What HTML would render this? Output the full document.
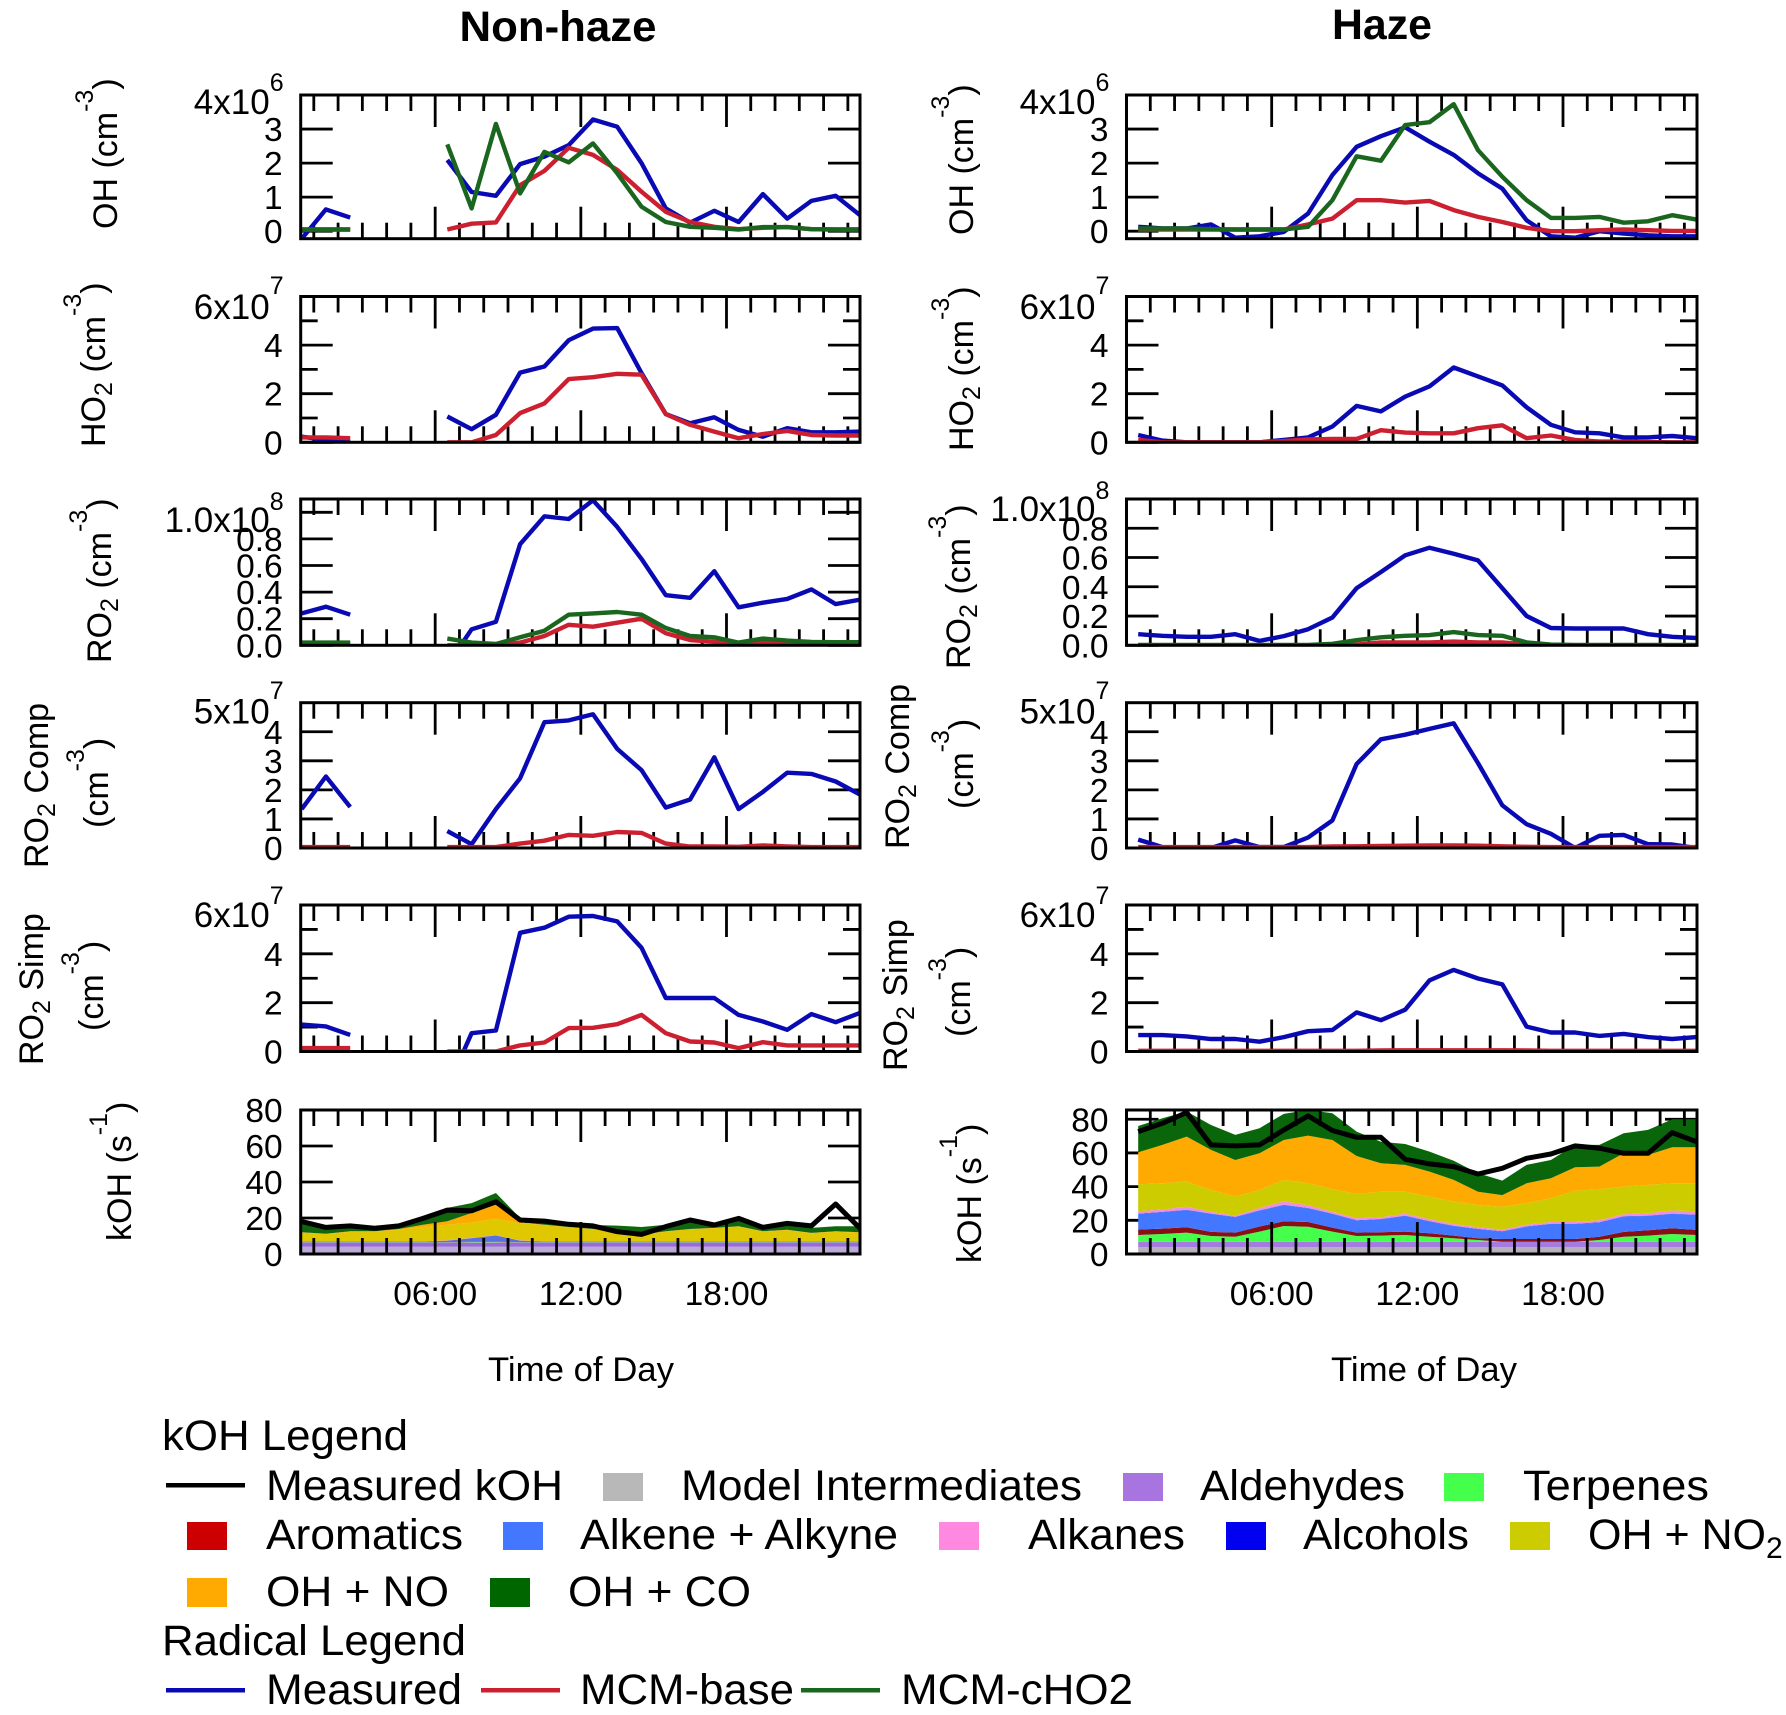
<!DOCTYPE html>
<html lang="en">
<head>
<meta charset="utf-8">
<title>Radical and kOH diurnal profiles: non-haze and haze</title>
<style>
html,body{margin:0;padding:0;background:#fff;}
#chart{display:block;width:1786px;height:1715px;}
text{font-family:"Liberation Sans",Arial,sans-serif;fill:#000;}
</style>
</head>
<body>
<svg id="chart" xmlns="http://www.w3.org/2000/svg" width="1786" height="1715" viewBox="0 0 1786 1715">
  <rect x="0" y="0" width="1786" height="1715" fill="#fff"/>
  <g id="plots"></g>

  <text x="558" y="41" font-size="43" font-weight="bold" text-anchor="middle" textLength="197" lengthAdjust="spacingAndGlyphs">Non-haze</text>
  <text x="1382" y="39" font-size="43" font-weight="bold" text-anchor="middle" textLength="100" lengthAdjust="spacingAndGlyphs">Haze</text>

  <g font-size="34">
    <text transform="translate(117,229) rotate(-90)">OH (cm<tspan font-size="25" dy="-24">-3</tspan><tspan dy="24">)</tspan></text>
    <text transform="translate(105,447) rotate(-90)">HO<tspan font-size="25" dy="7">2</tspan><tspan dy="-7"> (cm</tspan><tspan font-size="25" dy="-24">-3</tspan><tspan dy="24">)</tspan></text>
    <text transform="translate(111,663) rotate(-90)">RO<tspan font-size="25" dy="7">2</tspan><tspan dy="-7"> (cm</tspan><tspan font-size="25" dy="-24">-3</tspan><tspan dy="24">)</tspan></text>
    <text transform="translate(48,868) rotate(-90)">RO<tspan font-size="25" dy="7">2</tspan><tspan dy="-7"> Comp</tspan></text>
    <text transform="translate(108,828) rotate(-90)">(cm<tspan font-size="25" dy="-24">-3</tspan><tspan dy="24">)</tspan></text>
    <text transform="translate(43,1065) rotate(-90)">RO<tspan font-size="25" dy="7">2</tspan><tspan dy="-7"> Simp</tspan></text>
    <text transform="translate(103,1031) rotate(-90)">(cm<tspan font-size="25" dy="-24">-3</tspan><tspan dy="24">)</tspan></text>
    <text transform="translate(131,1241) rotate(-90)">kOH (s<tspan font-size="25" dy="-24">-1</tspan><tspan dy="24">)</tspan></text>

    <text transform="translate(973,235) rotate(-90)">OH (cm<tspan font-size="25" dy="-24">-3</tspan><tspan dy="24">)</tspan></text>
    <text transform="translate(973,451) rotate(-90)">HO<tspan font-size="25" dy="7">2</tspan><tspan dy="-7"> (cm</tspan><tspan font-size="25" dy="-24">-3</tspan><tspan dy="24">)</tspan></text>
    <text transform="translate(970,669) rotate(-90)">RO<tspan font-size="25" dy="7">2</tspan><tspan dy="-7"> (cm</tspan><tspan font-size="25" dy="-24">-3</tspan><tspan dy="24">)</tspan></text>
    <text transform="translate(909,849) rotate(-90)">RO<tspan font-size="25" dy="7">2</tspan><tspan dy="-7"> Comp</tspan></text>
    <text transform="translate(973,809) rotate(-90)">(cm<tspan font-size="25" dy="-24">-3</tspan><tspan dy="24">)</tspan></text>
    <text transform="translate(907,1071) rotate(-90)">RO<tspan font-size="25" dy="7">2</tspan><tspan dy="-7"> Simp</tspan></text>
    <text transform="translate(970,1037) rotate(-90)">(cm<tspan font-size="25" dy="-24">-3</tspan><tspan dy="24">)</tspan></text>
    <text transform="translate(981,1263) rotate(-90)">kOH (s<tspan font-size="25" dy="-24">-1</tspan><tspan dy="24">)</tspan></text>
  </g>

  <text x="581" y="1381" font-size="34" text-anchor="middle" textLength="186" lengthAdjust="spacingAndGlyphs">Time of Day</text>
  <text x="1424" y="1381" font-size="34" text-anchor="middle" textLength="186" lengthAdjust="spacingAndGlyphs">Time of Day</text>

  <g font-size="43">
    <text x="162" y="1450" textLength="246" lengthAdjust="spacingAndGlyphs">kOH Legend</text>

    <g>
      <rect x="166" y="1483" width="79" height="4.5" fill="#000"/>
      <text x="266" y="1500" textLength="297" lengthAdjust="spacingAndGlyphs">Measured kOH</text>
    </g>
    <g>
      <rect x="603" y="1473" width="40" height="28" fill="#b8b8b8"/>
      <text x="681" y="1500" textLength="401" lengthAdjust="spacingAndGlyphs">Model Intermediates</text>
    </g>
    <g>
      <rect x="1123" y="1473" width="40" height="28" fill="#a875e0"/>
      <text x="1200" y="1500" textLength="205" lengthAdjust="spacingAndGlyphs">Aldehydes</text>
    </g>
    <g>
      <rect x="1444" y="1473" width="40" height="28" fill="#44ff4c"/>
      <text x="1523" y="1500" textLength="186" lengthAdjust="spacingAndGlyphs">Terpenes</text>
    </g>

    <g>
      <rect x="187" y="1522" width="40" height="28" fill="#cc0000"/>
      <text x="266" y="1549" textLength="197" lengthAdjust="spacingAndGlyphs">Aromatics</text>
    </g>
    <g>
      <rect x="503" y="1522" width="40" height="28" fill="#4477ff"/>
      <text x="580" y="1549" textLength="318" lengthAdjust="spacingAndGlyphs">Alkene + Alkyne</text>
    </g>
    <g>
      <rect x="939" y="1522" width="40" height="28" fill="#ff88e0"/>
      <text x="1028" y="1549" textLength="157" lengthAdjust="spacingAndGlyphs">Alkanes</text>
    </g>
    <g>
      <rect x="1226" y="1522" width="40" height="28" fill="#0000f0"/>
      <text x="1303" y="1549" textLength="166" lengthAdjust="spacingAndGlyphs">Alcohols</text>
    </g>
    <g>
      <rect x="1510" y="1522" width="40" height="28" fill="#cccc00"/>
      <text x="1588" y="1549">OH + NO<tspan font-size="30" dy="9">2</tspan></text>
    </g>

    <g>
      <rect x="187" y="1578" width="40" height="29" fill="#ffaa00"/>
      <text x="266" y="1606" textLength="183" lengthAdjust="spacingAndGlyphs">OH + NO</text>
    </g>
    <g>
      <rect x="490" y="1578" width="40" height="29" fill="#006600"/>
      <text x="568" y="1606" textLength="183" lengthAdjust="spacingAndGlyphs">OH + CO</text>
    </g>

    <text x="162" y="1655" textLength="304" lengthAdjust="spacingAndGlyphs">Radical Legend</text>

    <g>
      <rect x="166" y="1688" width="79" height="4.5" fill="#0a0ab4"/>
      <text x="266" y="1704" textLength="196" lengthAdjust="spacingAndGlyphs">Measured</text>
    </g>
    <g>
      <rect x="481" y="1688" width="79" height="4.5" fill="#cc2030"/>
      <text x="580" y="1704" textLength="214" lengthAdjust="spacingAndGlyphs">MCM-base</text>
    </g>
    <g>
      <rect x="801" y="1688" width="79" height="4.5" fill="#1a661f"/>
      <text x="901" y="1704" textLength="232" lengthAdjust="spacingAndGlyphs">MCM-cHO2</text>
    </g>
  </g>
</svg>

<script>
// ---------- shared axis data ----------
const hours = [0.5,1.5,2.5,3.5,4.5,5.5,6.5,7.5,8.5,9.5,10.5,11.5,12.5,13.5,14.5,15.5,16.5,17.5,18.5,19.5,20.5,21.5,22.5,23.5];
const xMajorHours = [6,12,18];
const xMinorHours = [1,2,3,4,5,7,8,9,10,11,13,14,15,16,17,19,20,21,22,23];
const xTickLabels = ['06:00','12:00','18:00'];

// ---------- y tick values ----------
const ohTicks = [0,1,2,3];
const ho2MajorTicks = [0,2,4];
const ho2MinorTicks = [1,3,5];
const ro2Ticks = [0,0.2,0.4,0.6,0.8];
const ro2TickLabels = ['0.0','0.2','0.4','0.6','0.8'];
const compTicks = [0,1,2,3,4];
const simpMajorTicks = [0,2,4];
const simpMinorTicks = [1,3,5];
const kohTicks = [0,20,40,60];

// ---------- non-haze radicals ----------
const nhOHMeasured = [-0.22,0.64,0.4,null,null,null,2.09,1.15,1.04,1.97,2.19,2.53,3.28,3.07,2.0,0.67,0.25,0.6,0.27,1.09,0.37,0.89,1.04,0.47];
const nhOHBase = [0.05,0.05,0.05,null,null,null,0.05,0.22,0.26,1.35,1.77,2.45,2.24,1.8,1.16,0.57,0.27,0.13,0.06,0.1,0.12,0.06,0.05,0.05];
const nhOHCho2 = [0.05,0.05,0.05,null,null,null,2.55,0.67,3.15,1.11,2.33,2.02,2.58,1.7,0.72,0.27,0.13,0.1,0.05,0.12,0.12,0.06,0.05,0.05];

const nhHO2Measured = [0.23,0.1,0.03,null,null,null,1.06,0.54,1.13,2.87,3.12,4.2,4.68,4.7,2.85,1.16,0.78,1.03,0.51,0.23,0.58,0.41,0.41,0.44];
const nhHO2Base = [0.2,0.2,0.17,null,null,null,0,0,0.3,1.2,1.6,2.6,2.68,2.82,2.78,1.16,0.72,0.44,0.17,0.34,0.47,0.3,0.28,0.28];

const nhRO2Measured = [0.24,0.29,0.23,null,null,null,-0.15,0.12,0.177,0.76,0.97,0.95,1.09,0.89,0.65,0.377,0.357,0.557,0.286,0.32,0.349,0.42,0.31,0.343];
const nhRO2Base = [0.01,0.01,0.01,null,null,null,0,0,0,0.02,0.07,0.154,0.14,0.17,0.2,0.09,0.04,0.026,0.006,0.02,0.014,0.01,0.01,0.01];
const nhRO2Cho2 = [0.02,0.02,0.02,null,null,null,0.05,0.02,0.01,0.06,0.11,0.23,0.24,0.25,0.23,0.13,0.07,0.06,0.02,0.05,0.035,0.025,0.023,0.023];

const nhCompMeasured = [1.34,2.46,1.41,null,null,null,0.58,0.13,1.34,2.4,4.33,4.39,4.6,3.41,2.68,1.39,1.67,3.12,1.34,1.93,2.59,2.55,2.29,1.84];
const nhCompBase = [0.03,0.03,0.03,null,null,null,0.03,0.03,0.03,0.15,0.25,0.45,0.42,0.55,0.52,0.15,0.05,0.05,0.04,0.09,0.05,0.03,0.03,0.03];

const nhSimpMeasured = [1.1,1.03,0.68,null,null,null,-1.5,0.75,0.86,4.86,5.07,5.52,5.55,5.33,4.25,2.19,2.19,2.19,1.5,1.23,0.89,1.53,1.2,1.58];
const nhSimpBase = [0.14,0.14,0.14,null,null,null,0,0,0,0.25,0.37,0.96,0.97,1.12,1.5,0.75,0.41,0.37,0.14,0.38,0.25,0.25,0.25,0.25];

// ---------- haze radicals ----------
const hzOHMeasured = [0.13,0.08,0.08,0.2,-0.19,-0.15,-0.02,0.52,1.65,2.48,2.79,3.05,2.63,2.24,1.7,1.25,0.32,-0.15,-0.19,0,-0.07,-0.12,-0.15,-0.15];
const hzOHBase = [0.05,0.05,0.05,0.05,0.05,0.05,0.05,0.2,0.37,0.91,0.91,0.84,0.89,0.62,0.42,0.27,0.1,0,0,0.03,0.05,0.03,0.01,0.01];
const hzOHCho2 = [0.08,0.08,0.08,0.06,0.05,0.05,0.05,0.13,0.91,2.2,2.07,3.12,3.2,3.73,2.38,1.6,0.91,0.39,0.39,0.42,0.25,0.29,0.47,0.34];

const hzHO2Measured = [0.3,0.07,0,0,0,0,0.1,0.2,0.65,1.5,1.27,1.88,2.3,3.08,2.71,2.34,1.44,0.72,0.41,0.37,0.2,0.2,0.26,0.17];
const hzHO2Base = [0.1,0,0,0,0,0,0.05,0.12,0.14,0.14,0.5,0.4,0.37,0.37,0.58,0.7,0.17,0.28,0.1,0.03,0.03,0.01,0,0];

const hzRO2Measured = [0.076,0.065,0.058,0.058,0.076,0.03,0.063,0.11,0.19,0.39,0.5,0.615,0.667,0.626,0.58,0.39,0.2,0.118,0.115,0.115,0.115,0.076,0.058,0.05];
const hzRO2Base = [0,0,0,0,0,0,0,0,0,0.005,0.02,0.02,0.02,0.025,0.02,0.02,0.005,0,0,0,0,0,0,0];
const hzRO2Cho2 = [0.002,0.002,0.002,0.002,0.002,0.002,0.002,0.002,0.01,0.035,0.055,0.065,0.07,0.09,0.07,0.065,0.02,0.005,0.003,0.003,0.003,0.003,0.003,0.003];

const hzCompMeasured = [0.29,0.03,0,0,0.26,0.03,0.03,0.36,0.95,2.89,3.74,3.9,4.1,4.29,2.92,1.47,0.82,0.49,0,0.42,0.45,0.13,0.12,0];
const hzCompBase = [0.03,0.03,0.03,0.03,0.03,0.03,0.03,0.03,0.05,0.06,0.07,0.08,0.09,0.09,0.08,0.06,0.04,0.03,0.03,0.03,0.03,0.03,0.03,0.03];

const hzSimpMeasured = [0.67,0.67,0.62,0.51,0.51,0.4,0.59,0.83,0.88,1.6,1.28,1.71,2.91,3.34,2.99,2.75,1.02,0.78,0.78,0.64,0.72,0.59,0.51,0.59];
const hzSimpBase = [0.03,0.03,0.03,0.03,0.03,0.03,0.03,0.03,0.03,0.03,0.04,0.05,0.05,0.05,0.05,0.05,0.04,0.03,0.03,0.03,0.03,0.03,0.03,0.03];

// ---------- non-haze kOH stack ----------
const nhIntermediates = [4,4,4,4,4,4,4,4,4,4,4,4,4,4,4,4,4,4,4,4,4,4,4,4];
const nhAldehydes = [2.3,2.3,2.3,2.3,2.3,2.3,2.3,2.3,2.3,2.3,2.3,2.3,2.3,2.3,2.3,2.3,2.3,2.3,2.3,2.3,2.3,2.3,2.3,2.3];
const nhTerpenes = [0.1,0.1,0.1,0.1,0.1,0.1,0.1,0.3,0.3,0.1,0.1,0.1,0.1,0.1,0.1,0.1,0.1,0.1,0.1,0.1,0.1,0.1,0.1,0.1];
const nhAromatics = [0.15,0.15,0.15,0.15,0.15,0.15,0.15,0.15,0.15,0.15,0.15,0.15,0.15,0.15,0.15,0.15,0.15,0.15,0.15,0.15,0.15,0.15,0.15,0.15];
const nhAlkene = [0.3,0.3,0.3,0.3,0.3,0.3,0.8,2.0,3.5,0.8,0.3,0.3,0.3,0.3,0.3,0.3,0.3,0.3,0.3,0.3,0.3,0.3,0.3,0.3];
const nhAlcohols = [0.1,0.1,0.1,0.1,0.1,0.1,0.1,0.1,0.1,0.1,0.1,0.1,0.1,0.1,0.1,0.1,0.1,0.1,0.1,0.1,0.1,0.1,0.1,0.1];
const nhAlkanes = [0.1,0.1,0.1,0.1,0.1,0.1,0.1,0.1,0.1,0.1,0.1,0.1,0.1,0.1,0.1,0.1,0.1,0.1,0.1,0.1,0.1,0.1,0.1,0.1];
const nhNO2 = [4.85,4.05,5.35,5.35,6.45,7.95,8.75,8.55,9.05,9.65,9.05,7.75,6.65,5.35,3.55,5.35,6.65,7.25,8.15,5.35,6.25,4.45,5.35,4.85];
const nhNO = [0.2,0.2,0.2,0.2,0.4,1.3,1.9,5.3,7.9,0.4,0.2,0.2,0.2,0.2,0.2,0.2,0.2,0.2,0.2,0.2,0.2,0.2,0.2,0.2];
const nhCO = [5.1,3.2,2.8,1.9,2.4,2.8,7.4,5.5,6.5,2.4,2.4,1.9,2.2,3.2,4.2,3.7,3.7,2.7,3.3,2.8,2.8,2.8,2.8,3.3];
const nhMeasuredKOH = [18,14.8,15.6,14.3,15.6,19.8,24.4,24,29,18.9,18.3,16.5,15.6,12.4,10.9,15.2,18.9,16.1,19.8,14.8,17,15.6,27.8,14.3];

// ---------- haze kOH stack ----------
const hzIntermediates = [4,4,4,4,4,4,4,4,4,4,4,4,4,4,4,4,4,4,4,4,4,4,4,4];
const hzAldehydes = [3.3,3.3,3.3,3.3,3.3,3.3,3.3,3.3,3.3,3.3,3.3,3.3,3.3,3.3,3.3,3.3,3.3,3.3,3.3,3.3,3.3,3.3,3.3,3.3];
const hzTerpenes = [4.0,4.6,5.4,3.4,3.0,6.0,9.3,8.9,6.0,3.4,3.6,4.0,3.0,2.0,1.0,0,0,0,0,1.0,3.0,3.6,4.6,4.0];
const hzAromatics = [3.2,3.2,3.2,2.4,2.4,3,2.8,2.8,2.4,2,2,2,2,1.6,1,1.6,1.6,1.6,1.6,2,2.8,3.2,3.4,3];
const hzAlkene = [9.3,9.7,10.2,10.7,9.1,9.4,9.7,8.1,8.1,7.1,7.7,9.3,6.9,5.7,5.4,4.4,7.3,8.9,8.9,8.3,9.1,8.5,8.5,8.9];
const hzAlcohols = [0.2,0.2,0.2,0.2,0.2,0.2,0.2,0.2,0.2,0.2,0.2,0.2,0.2,0.2,0.2,0.2,0.2,0.2,0.2,0.2,0.2,0.2,0.2,0.2];
const hzAlkanes = [1.4,1.4,1.8,1,0.8,1.4,2,1.6,1,1.2,1,1.2,1.2,1,1,1,1,1,1,1.2,1.2,1.4,1.8,2];
const hzNO2 = [16,15.6,14.9,13,11.3,10.7,12.7,13.1,13.4,14.4,15.2,13,13.5,13.3,13.2,13.6,12.7,14.1,18.6,18.4,16.4,16.8,16.2,16.6];
const hzNO = [19,22.8,26.7,23.8,21.7,21.8,23.7,28.3,29.3,22.6,16.9,15.9,14.8,12.9,7.9,6.9,11.9,11.9,13.9,13.5,19.8,17.8,21.4,21.4];
const hzCO = [15.6,15.8,14.9,14.8,14.9,14.9,15.5,15.2,15.9,14.5,12.8,12.4,11.9,11.4,10.9,8.6,10.9,10.8,13.3,12.9,11.9,14.9,16.6,16.6];
const hzMeasuredKOH = [72.7,77.6,84,64.8,64.2,64.8,73.7,82,73.3,69.3,69.3,56.2,53.5,51.9,47.5,50.9,56.8,59.4,64.2,62.8,59.8,59.8,72.1,66.7];

// ---------- drawing ----------
const NS = 'http://www.w3.org/2000/svg';
const root = document.getElementById('plots');
const BLUE = '#0a0ab4', RED = '#cc2030', GREEN = '#1a661f';
const LEFT = {x0:300.7, x1:860, h0:0.46, h1:23.5, id:'non-haze'};
const RIGHT = {x0:1126.5, x1:1697, h0:0.02, h1:23.52, id:'haze'};
let clipCount = 0;

function make(parent, tag, props) {
  const el = document.createElementNS(NS, tag);
  for (const k in props) el.setAttribute(k, props[k]);
  parent.appendChild(el);
  return el;
}

function drawTicks(g, xs, name, p) {
  // vertical ticks on the top and bottom frame lines
  xs.forEach(function (h) {
    const px = p.sx(h);
    const a = make(g, 'line', {x1:px, x2:px, y1:p.top, y2:p.top + p.vlen, stroke:'#000', 'stroke-width':2.8});
    
    
    const b = make(g, 'line', {x1:px, x2:px, y1:p.bottom, y2:p.bottom - p.vlen, stroke:'#000', 'stroke-width':2.8});
    
    
  });
}

function drawYTick(g, p, value, len) {
  const py = p.sy(value);
  const a = make(g, 'line', {x1:p.col.x0, x2:p.col.x0 + len, y1:py, y2:py, stroke:'#000', 'stroke-width':2.8});
  
  
  const b = make(g, 'line', {x1:p.col.x1, x2:p.col.x1 - len, y1:py, y2:py, stroke:'#000', 'stroke-width':2.8});
  
  
}

function drawYLabel(g, p, value, label) {
  const t = make(g, 'text', {x:p.col.x0 - 18, y:p.sy(value) + 12, 'font-size':33.5, 'text-anchor':'end'});
  t.textContent = label;
  
  
}

function drawLine(g, p, values, color, name, width) {
  let d = '', pen = false;
  values.forEach(function (v, i) {
    if (v === null) { pen = false; return; }
    d += (pen ? 'L' : 'M') + p.sx(hours[i]).toFixed(1) + ' ' + p.sy(v).toFixed(1);
    pen = true;
  });
  const el = make(g, 'path', {d:d, fill:'none', stroke:color, 'stroke-width':width || 4.4, 'stroke-linejoin':'round', 'clip-path':'url(#' + p.clip + ')'});
  
  
}

function drawStack(g, p, layers) {
  const base = hours.map(function () { return 0; });
  layers.forEach(function (layer) {
    const lower = base.slice();
    layer.values.forEach(function (v, i) { base[i] += v; });
    let d = '';
    hours.forEach(function (h, i) { d += (i ? 'L' : 'M') + p.sx(h).toFixed(1) + ' ' + p.sy(base[i]).toFixed(1); });
    for (let i = hours.length - 1; i >= 0; i--) d += 'L' + p.sx(hours[i]).toFixed(1) + ' ' + p.sy(lower[i]).toFixed(1);
    const el = make(g, 'path', {d:d + 'Z', fill:layer.color, stroke:'none', 'clip-path':'url(#' + p.clip + ')'});
    
    
  });
}

function panel(cfg) {
  const col = cfg.col;
  const p = {
    col:col, top:cfg.top, bottom:cfg.bottom, vlen:16,
    sx:function (h) { return col.x0 + (h - col.h0) / (col.h1 - col.h0) * (col.x1 - col.x0); },
    sy:function (v) { return cfg.bottom - (v - cfg.ymin) / (cfg.ymax - cfg.ymin) * (cfg.bottom - cfg.top); }
  };
  const g = make(root, 'g', {});
  
  

  p.clip = 'clip' + (++clipCount);
  const cp = make(g, 'clipPath', {id:p.clip});
  make(cp, 'rect', {x:col.x0, y:cfg.top, width:col.x1 - col.x0, height:cfg.bottom - cfg.top});

  (cfg.major || []).forEach(function (v) { drawYTick(g, p, v, cfg.yLen || 32); });
  (cfg.minor || []).forEach(function (v) { drawYTick(g, p, v, 17); });
  (cfg.major || []).forEach(function (v, i) { drawYLabel(g, p, v, cfg.labels[i]); });
  if (cfg.extraTick !== undefined) drawYTick(g, p, cfg.extraTick, 32);

  if (cfg.stack) drawStack(g, p, cfg.stack);

  p.vlen = 16;
  drawTicks(g, xMinorHours, 'x-minor-tick', p);
  p.vlen = 32;
  drawTicks(g, xMajorHours, 'x-major-tick', p);

  (cfg.lines || []).forEach(function (l) { drawLine(g, p, l.values, l.color, l.name, l.width); });

  const frame = make(g, 'rect', {x:col.x0, y:cfg.top, width:col.x1 - col.x0, height:cfg.bottom - cfg.top, fill:'none', stroke:'#000', 'stroke-width':3});
  
  

  if (cfg.topLabel) {
    const t = make(g, 'text', {x:col.x0 - 31, y:cfg.topLabelY + 12, 'font-size':35, 'text-anchor':'end'});
    t.textContent = cfg.topLabel;
    
    
    const e = make(g, 'text', {x:col.x0 - 31, y:cfg.expY + 9, 'font-size':25});
    e.textContent = cfg.exponent;
    
    
  }
  if (cfg.showX) {
    xMajorHours.forEach(function (h, i) {
      const t = make(g, 'text', {x:p.sx(h), y:1305, 'font-size':33.5, 'text-anchor':'middle'});
      t.textContent = xTickLabels[i];
      
      
    });
  }
}

function triple(a, b, c) {
  const list = [{values:a, color:BLUE, name:'measured-line'}, {values:b, color:RED, name:'mcm-base-line'}];
  if (c) list.push({values:c, color:GREEN, name:'mcm-cho2-line'});
  return list;
}
const ohLabels = ohTicks.map(String);
const ho2Labels = ho2MajorTicks.map(String);
const compLabels = compTicks.map(String);
const simpLabels = simpMajorTicks.map(String);
const kohLabels = kohTicks.map(String).concat(['80']);

// non-haze column
panel({name:'non-haze-oh', col:LEFT, top:95, bottom:238.7, ymin:-0.22, ymax:4, major:ohTicks, labels:ohLabels, topLabel:'4x10', exponent:'6', topLabelY:102, expY:82, lines:triple(nhOHMeasured, nhOHBase, nhOHCho2)});
panel({name:'non-haze-ho2', col:LEFT, top:296.5, bottom:442.3, ymin:0, ymax:6, major:ho2MajorTicks, minor:ho2MinorTicks, labels:ho2Labels, topLabel:'6x10', exponent:'7', topLabelY:307, expY:285, lines:triple(nhHO2Measured, nhHO2Base)});
panel({name:'non-haze-ro2', col:LEFT, top:499, bottom:645.3, ymin:0, ymax:1.1, major:ro2Ticks, labels:ro2TickLabels, extraTick:1.0, topLabel:'1.0x10', exponent:'8', topLabelY:520, expY:501, lines:triple(nhRO2Measured, nhRO2Base, nhRO2Cho2)});
panel({name:'non-haze-ro2-comp', col:LEFT, top:702.7, bottom:848, ymin:0, ymax:5, major:compTicks, labels:compLabels, topLabel:'5x10', exponent:'7', topLabelY:711.5, expY:690, lines:triple(nhCompMeasured, nhCompBase)});
panel({name:'non-haze-ro2-simp', col:LEFT, top:905, bottom:1051.5, ymin:0, ymax:6, major:simpMajorTicks, minor:simpMinorTicks, labels:simpLabels, topLabel:'6x10', exponent:'7', topLabelY:915, expY:895, lines:triple(nhSimpMeasured, nhSimpBase)});

const nhLayers = [
  {name:'model-intermediates', color:'#bba9d8', values:nhIntermediates},
  {name:'aldehydes', color:'#9a6bd8', values:nhAldehydes},
  {name:'terpenes', color:'#66e08c', values:nhTerpenes},
  {name:'aromatics', color:'#b01020', values:nhAromatics},
  {name:'alkene-alkyne', color:'#5a70e0', values:nhAlkene},
  {name:'alcohols', color:'#3030e0', values:nhAlcohols},
  {name:'alkanes', color:'#ff88e0', values:nhAlkanes},
  {name:'oh-no2', color:'#e0c800', values:nhNO2},
  {name:'oh-no', color:'#ffaa00', values:nhNO},
  {name:'oh-co', color:'#0f660f', values:nhCO}
];
panel({name:'non-haze-koh', col:LEFT, top:1110, bottom:1254, ymin:0, ymax:80, major:kohTicks.concat([80]), labels:kohLabels, stack:nhLayers, showX:true, lines:[{values:nhMeasuredKOH, color:'#000', name:'measured-koh-line', width:5}]});

// haze column
panel({name:'haze-oh', col:RIGHT, top:95, bottom:238.7, ymin:-0.22, ymax:4, major:ohTicks, labels:ohLabels, topLabel:'4x10', exponent:'6', topLabelY:102, expY:82, lines:triple(hzOHMeasured, hzOHBase, hzOHCho2)});
panel({name:'haze-ho2', col:RIGHT, top:296.5, bottom:442.3, ymin:0, ymax:6, major:ho2MajorTicks, minor:ho2MinorTicks, labels:ho2Labels, topLabel:'6x10', exponent:'7', topLabelY:307, expY:285, lines:triple(hzHO2Measured, hzHO2Base)});
panel({name:'haze-ro2', col:RIGHT, top:499, bottom:645.3, ymin:0, ymax:1.0, major:ro2Ticks, labels:ro2TickLabels, topLabel:'1.0x10', exponent:'8', topLabelY:509, expY:490, lines:triple(hzRO2Measured, hzRO2Base, hzRO2Cho2)});
panel({name:'haze-ro2-comp', col:RIGHT, top:702.7, bottom:848, ymin:0, ymax:5, major:compTicks, labels:compLabels, topLabel:'5x10', exponent:'7', topLabelY:711.5, expY:690, lines:triple(hzCompMeasured, hzCompBase)});
panel({name:'haze-ro2-simp', col:RIGHT, top:905, bottom:1051.5, ymin:0, ymax:6, major:simpMajorTicks, minor:simpMinorTicks, labels:simpLabels, topLabel:'6x10', exponent:'7', topLabelY:915, expY:895, lines:triple(hzSimpMeasured, hzSimpBase)});

const hzLayers = [
  {name:'model-intermediates', color:'#b8b0bc', values:hzIntermediates},
  {name:'aldehydes', color:'#a47ce0', values:hzAldehydes},
  {name:'terpenes', color:'#44ff4c', values:hzTerpenes},
  {name:'aromatics', color:'#8a0f14', values:hzAromatics},
  {name:'alkene-alkyne', color:'#4477ff', values:hzAlkene},
  {name:'alcohols', color:'#3040e8', values:hzAlcohols},
  {name:'alkanes', color:'#f090d8', values:hzAlkanes},
  {name:'oh-no2', color:'#cccc00', values:hzNO2},
  {name:'oh-no', color:'#ffaa00', values:hzNO},
  {name:'oh-co', color:'#0a660a', values:hzCO}
];
panel({name:'haze-koh', col:RIGHT, top:1110, bottom:1254, ymin:0, ymax:85.5, major:kohTicks.concat([80]), labels:kohLabels, stack:hzLayers, showX:true, lines:[{values:hzMeasuredKOH, color:'#000', name:'measured-koh-line', width:5}]});
</script>
</body>
</html>
